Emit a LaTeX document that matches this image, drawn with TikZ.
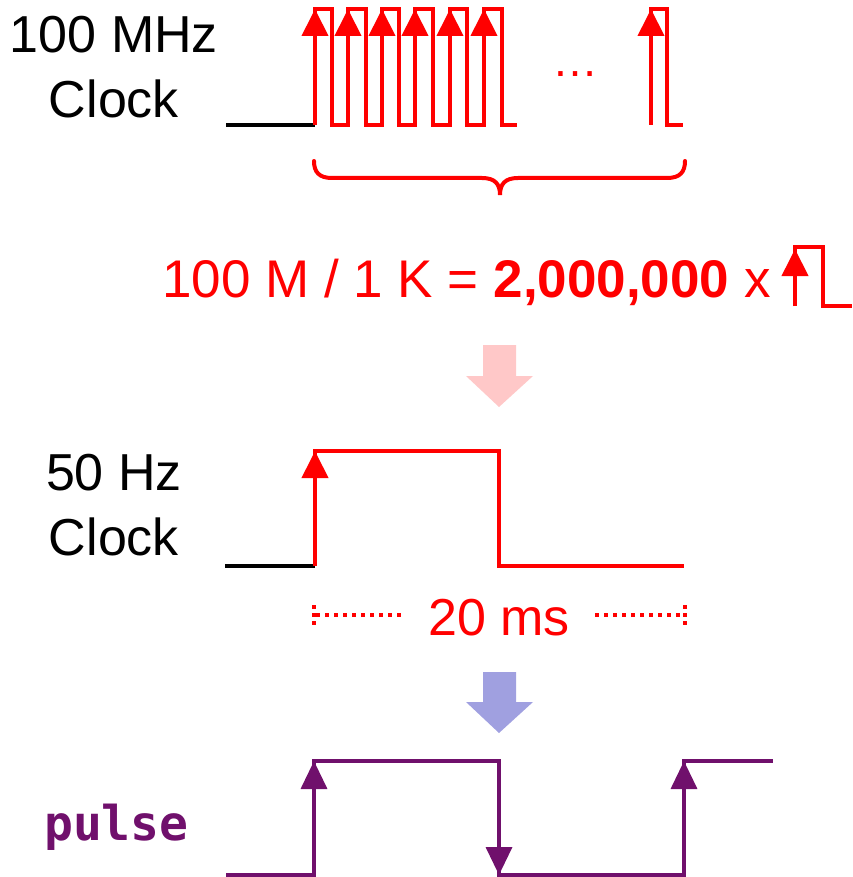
\documentclass[tikz,border=0pt]{standalone}
\usepackage{fontspec}
\setmainfont{Liberation Sans}
\setmonofont{DejaVu Sans Mono}
\usetikzlibrary{arrows.meta}
\definecolor{pulsecol}{RGB}{112,16,108}
\definecolor{pinkarrow}{RGB}{255,200,200}
\definecolor{lavarrow}{RGB}{160,160,224}
\tikzset{
  lbl/.style={inner sep=0pt, font=\fontsize{52}{65}\selectfont, align=center},
  redtxt/.style={inner sep=0pt, text=red, font=\fontsize{52}{60}\selectfont},
  redwave/.style={draw=red, line width=4pt},
  blackwave/.style={draw=black, line width=4pt},
  purwave/.style={draw=pulsecol, line width=3.5pt},
  redup/.style={draw=red, line width=4pt, -{Triangle[length=27pt,width=26pt]}},
  purarr/.style={draw=pulsecol, line width=3.5pt, -{Triangle[length=28pt,width=26pt]}},
  dotline/.style={draw=red, line width=4pt, dash pattern=on 4pt off 5pt},
}
\begin{document}
\begin{tikzpicture}[x=1pt,y=-1pt]
\useasboundingbox (0,0) rectangle (852,877);

% ---------- 100 MHz clock ----------
\node[lbl, anchor=base] (l100) at (114,53) {100 MHz};
\node[lbl, anchor=base] (lclk1) at (114,118) {Clock};
\draw[blackwave] (226,125) -- (315,125);
\draw[redwave, line join=miter]
  (315,125) -- (315,9) -- (332,9) -- (332,125) -- (348,125)
  -- (348,9) -- (366,9) -- (366,125) -- (382,125)
  -- (382,9) -- (399,9) -- (399,125) -- (415,125)
  -- (415,9) -- (433,9) -- (433,125) -- (450,125)
  -- (450,9) -- (467,9) -- (467,125) -- (484,125)
  -- (484,9) -- (502,9) -- (502,125) -- (517,125);
\draw[redwave, line join=miter] (651,125) -- (651,9) -- (667,9) -- (667,125) -- (683,125);
\foreach \x in {315,348,382,415,450,484,651}
  \draw[redup] (\x,125) -- (\x,9);
\node[redtxt, anchor=base, font=\fontsize{46}{50}\selectfont] (dots) at (575,77) {…};

% brace
\draw[redwave, line cap=round]
  (314,161) .. controls (314,172) and (319,178) .. (332,178)
  -- (482,178) .. controls (495,178) and (500,184) .. (500,195)
  .. controls (500,184) and (505,178) .. (518,178)
  -- (667,178) .. controls (680,178) and (685,172) .. (685,161);

% equation
\node[redtxt, anchor=base west, font=\fontsize{53}{60}\selectfont] (eq) at (162,297) {100 M / 1 K = \textbf{2,000,000} x};
\draw[redwave, line join=miter] (795,306) -- (795,247) -- (823,247) -- (823,306) -- (852,306);
\draw[redup] (795,306) -- (795,249);

% pink arrow
\path[fill=pinkarrow] (483,345) -- (516,345) -- (516,376) -- (533,376) -- (499,407)
  -- (466,376) -- (483,376) -- cycle;

% ---------- 50 Hz clock ----------
\node[lbl, anchor=base] (l50) at (114,490) {50 Hz};
\node[lbl, anchor=base] (lclk2) at (114,555) {Clock};
\draw[blackwave] (225,566) -- (315,566);
\draw[redwave, line join=miter] (315,566) -- (315,451) -- (499,451) -- (499,566) -- (684,566);
\draw[redup] (315,566) -- (315,451);

% 20 ms
\node[redtxt, anchor=base] (ms) at (499,635) {20 ms};
\draw[dotline] (316,615) -- (405,615);
\draw[dotline] (595,615) -- (683,615);
\draw[draw=red, line width=4pt, dash pattern=on 4pt off 4pt] (314,605) -- (314,627);
\draw[draw=red, line width=4pt, dash pattern=on 4pt off 4pt] (685,605) -- (685,627);

% lavender arrow
\path[fill=lavarrow] (483,672) -- (516,672) -- (516,702) -- (533,702) -- (499,733)
  -- (466,702) -- (483,702) -- cycle;

% ---------- pulse ----------
\node[inner sep=0pt, anchor=base west, text=pulsecol, font=\fontsize{48}{55}\selectfont\ttfamily\bfseries] (pl) at (44,840) {pulse};
\draw[purwave, line join=miter] (226,875) -- (314,875) -- (314,761) -- (499,761) -- (499,875) -- (684,875) -- (684,761) -- (773,761);
\draw[purarr] (314,875) -- (314,761);
\draw[purarr] (499,761) -- (499,875);
\draw[purarr] (684,875) -- (684,761);
\end{tikzpicture}
\end{document}
